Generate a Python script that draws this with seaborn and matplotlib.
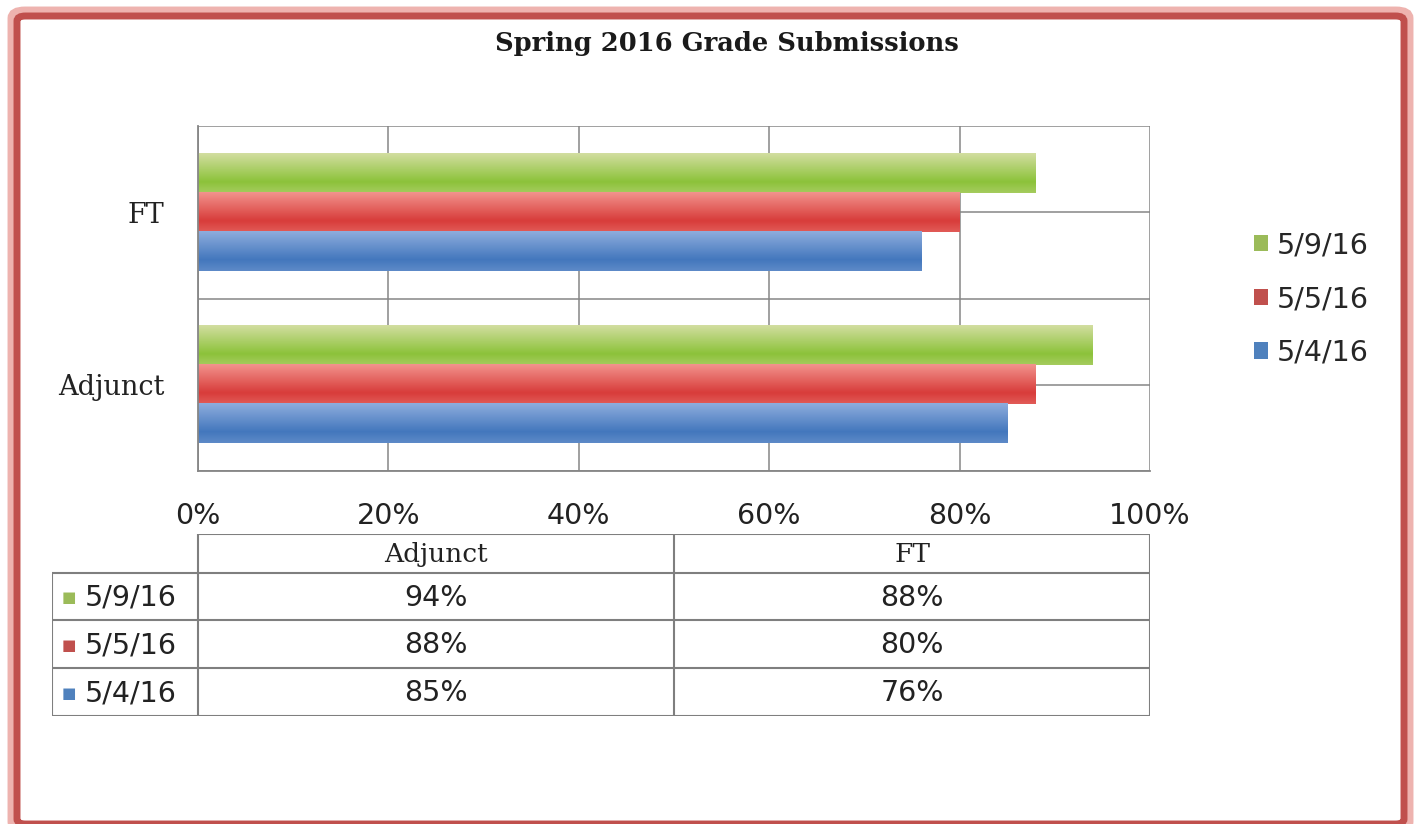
import numpy as np
import pandas as pd
import seaborn as sns
import matplotlib.pyplot as plt
from matplotlib.patches import FancyBboxPatch
from matplotlib.ticker import FuncFormatter, FixedLocator
from matplotlib.colors import to_rgb

# Data
groups = ['FT', 'Adjunct']
dates = ['5/9/16', '5/5/16', '5/4/16']
ft_pct = [88, 80, 76]
adjunct_pct = [94, 88, 85]

# colours: flat, light top, dark band
flat_cols = ['#9bbb59', '#c0504d', '#4f81bd']
light_cols = ['#d2dea0', '#f2938d', '#8eaddd']
dark_cols = ['#8cc23a', '#d83c3a', '#4377bd']

rows = []
for i, d in enumerate(dates):
    rows.append({'group': 'FT', 'date': d, 'pct': ft_pct[i]})
    rows.append({'group': 'Adjunct', 'date': d, 'pct': adjunct_pct[i]})
df = pd.DataFrame(rows)

sns.set_style('white')
plt.rcParams['font.family'] = ['DejaVu Sans']

fig = plt.figure(figsize=(14.16, 8.24), dpi=100)
W, H = 1416, 824

ax = fig.add_axes([198 / W, 1 - 471 / H, (1150 - 198) / W, (471 - 126) / H])
sns.barplot(data=df, y='group', x='pct', hue='date', order=groups, hue_order=dates,
            palette=flat_cols, saturation=1, width=0.68, orient='h', ax=ax,
            legend=True, edgecolor='none', linewidth=0)

# fake the glossy gradient of the original bars
def ramp(light, dark, n=64):
    l, d = np.array(to_rgb(light)), np.array(to_rgb(dark))
    t = np.linspace(0, 1, n)
    out = []
    for v in t:
        if v < 0.72:
            k = v / 0.72
            c = l * (1 - k) + d * k
        else:
            k = (v - 0.72) / 0.28
            c = d * (1 - 0.35 * k) + l * 0.35 * k
        out.append(c)
    return np.array(out)[:, None, :]

for ci, cont in enumerate(ax.containers):
    grad = ramp(light_cols[ci], dark_cols[ci])
    for p in cont.patches:
        x0, y0 = p.get_x(), p.get_y()
        x1, y1 = x0 + p.get_width(), y0 + p.get_height()
        ax.imshow(grad, extent=(x0, x1, y1, y0), aspect='auto', zorder=3,
                  interpolation='bilinear')
        p.set_zorder(2)

ax.set_xlim(0, 100)
ax.set_ylim(1.5, -0.5)
ax.set_xlabel('')
ax.set_ylabel('')

grid_c = '#868686'
ax.xaxis.set_major_locator(FixedLocator([0, 20, 40, 60, 80, 100]))
ax.xaxis.set_major_formatter(FuncFormatter(lambda v, _: f'{v:.0f}%'))
ax.yaxis.set_minor_locator(FixedLocator([-0.5, 0.5, 1.5]))
ax.grid(True, axis='x', color=grid_c, lw=1.1, zorder=0)
ax.grid(True, axis='y', which='both', color=grid_c, lw=1.1, zorder=0)
ax.set_axisbelow(True)
for s in ['top', 'right']:
    ax.spines[s].set_visible(False)
for s in ['left', 'bottom']:
    ax.spines[s].set_color(grid_c)
    ax.spines[s].set_linewidth(1.3)
    ax.spines[s].set_zorder(4)

ax.tick_params(axis='x', which='major', direction='out', length=9, width=1.1,
               color=grid_c, pad=13, labelsize=20.5, labelcolor='#222222')
ax.tick_params(axis='y', which='major', length=0, pad=24, labelsize=19.5,
               labelcolor='#222222')
ax.tick_params(axis='y', which='minor', direction='out', length=11, width=1.1,
               color=grid_c)
for lab in ax.get_yticklabels():
    lab.set_fontfamily('DejaVu Serif')

# legend at the right
handles, labels = ax.get_legend_handles_labels()
ax.legend(handles, labels, loc='center left', bbox_to_anchor=(1228 / W, 1 - 299 / H),
          bbox_transform=fig.transFigure, frameon=False, fontsize=20.5,
          handlelength=0.5, handleheight=0.5, handletextpad=0.3, labelspacing=0.9)

# title
fig.text(727 / W, 1 - 43 / H, 'Spring 2016 Grade Submissions', ha='center', va='center',
         fontsize=18.5, fontweight='bold', family='DejaVu Serif', color='#1a1a1a')

# data table under the chart, same x scale as the chart
lab_w = (198 - 52) / (1150 - 198) * 100
tax = fig.add_axes([52 / W, 1 - 716 / H, (1150 - 52) / W, (716 - 534) / H])
tax.set_xlim(-lab_w, 100)
row_edges = [0, 39, 86, 134, 182]
tax.set_ylim(row_edges[-1], row_edges[0])
tax.axis('off')
col_edges = [-lab_w, 0, 50, 100]
line_c = '#7f7f7f'
# header row lines (no cell above the series labels)
tax.plot([0, 100], [row_edges[0]] * 2, color=line_c, lw=1.5)
for r in row_edges[1:]:
    tax.plot([-lab_w, 100], [r, r], color=line_c, lw=1.5)
for c in col_edges:
    top = row_edges[1] if c == -lab_w else row_edges[0]
    tax.plot([c, c], [top, row_edges[-1]], color=line_c, lw=1.5)

for gi, g in enumerate(['Adjunct', 'FT']):
    tax.text(25 + 50 * gi, (row_edges[0] + row_edges[1]) / 2 + 1, g, ha='center',
             va='center', fontsize=19, family='DejaVu Serif', color='#222222')

table_vals = [adjunct_pct, ft_pct]
for ri, d in enumerate(dates):
    yc = (row_edges[ri + 1] + row_edges[ri + 2]) / 2 + 1
    tax.text(-lab_w + 1.0, yc, '■', ha='left', va='center', fontsize=11,
             color=flat_cols[ri])
    tax.text(-lab_w + 3.4, yc, d, ha='left', va='center', fontsize=20.5,
             color='#222222')
    for gi in range(2):
        tax.text(25 + 50 * gi, yc, f'{table_vals[gi][ri]}%', ha='center',
                 va='center', fontsize=20.5, color='#222222')

# red picture frame with a soft outer glow
glow = FancyBboxPatch((11 / W, 1 - 830 / H), (1410 - 11) / W, (830 - 10) / H,
                      boxstyle='round,pad=0,rounding_size=0.01', transform=fig.transFigure,
                      facecolor='none', edgecolor='#eeb3af', lw=5, zorder=10)
frame = FancyBboxPatch((17 / W, 1 - 824 / H), (1404 - 17) / W, (824 - 16) / H,
                       boxstyle='round,pad=0,rounding_size=0.006', transform=fig.transFigure,
                       facecolor='none', edgecolor='#c0504d', lw=5, zorder=11)
fig.patches.extend([glow, frame])

fig.savefig('out.png', dpi=100)
